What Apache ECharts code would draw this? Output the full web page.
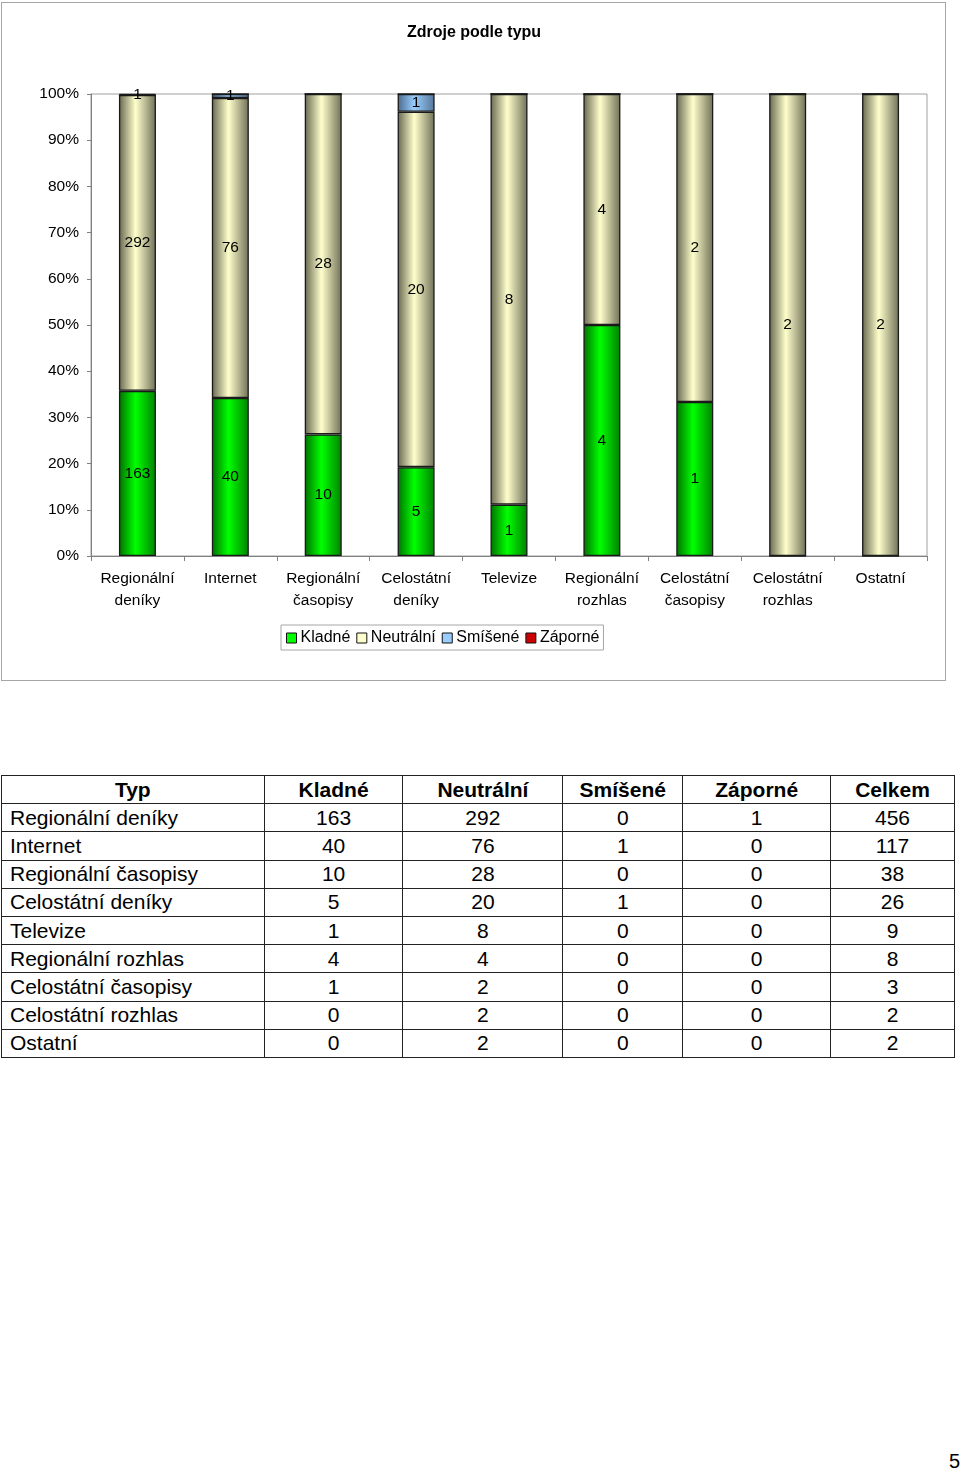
<!DOCTYPE html>
<html>
<head>
<meta charset="utf-8">
<script src="https://cdn.jsdelivr.net/npm/echarts@6/dist/echarts.min.js"></script>
<style>
  html, body { margin:0; padding:0; background:#fff; }
  body { width:960px; height:1471px; position:relative; font-family:"Liberation Sans", Arial, sans-serif; }
  #frame { position:absolute; left:1px; top:2px; width:943px; height:677px; border:1px solid #a6a6a6; }
  #chart { position:absolute; left:0; top:0; width:960px; height:690px; }
  table { position:absolute; left:1px; top:775px; width:954px; border-collapse:collapse; font-size:21px; color:#000; }
  td, th { border:1.5px solid #222; height:27.2px; padding:0; text-align:center; line-height:26px; }
  th { font-weight:bold; }
  td.t { text-align:left; padding-left:8px; }
  #page { position:absolute; left:949px; top:1450px; font-size:20px; }
</style>
</head>
<body>
<div id="frame"></div>
<div id="chart"></div>
<table id="tbl"></table>
<div id="page">5</div>
<script>
const title = 'Zdroje podle typu';
const categories = ['Regionální deníky','Internet','Regionální časopisy','Celostátní deníky','Televize','Regionální rozhlas','Celostátní časopisy','Celostátní rozhlas','Ostatní'];
const axisLabels = ['Regionální\ndeníky','Internet','Regionální\nčasopisy','Celostátní\ndeníky','Televize','Regionální\nrozhlas','Celostátní\nčasopisy','Celostátní\nrozhlas','Ostatní'];
const seriesNames = ['Kladné','Neutrální','Smíšené','Záporné'];
const kladne    = [163, 40, 10, 5, 1, 4, 1, 0, 0];
const neutralni = [292, 76, 28, 20, 8, 4, 2, 2, 2];
const smisene   = [0, 1, 0, 1, 0, 0, 0, 0, 0];
const zaporne   = [1, 0, 0, 0, 0, 0, 0, 0, 0];
const tableHeader = ['Typ','Kladné','Neutrální','Smíšené','Záporné','Celkem'];

const raw = [kladne, neutralni, smisene, zaporne];
const totals = categories.map((c,i)=>raw.reduce((s,a)=>s+a[i],0));

function grad(edgeL, mid, edgeR){
  return new echarts.graphic.LinearGradient(0,0,1,0,[
    {offset:0, color:edgeL},{offset:0.45, color:mid},{offset:1, color:edgeR}
  ]);
}
const fills = [
  grad('#007000','#00ff00','#008000'),
  grad('#66664f','#ffffcc','#6f6f58'),
  grad('#4a6a8a','#99ccff','#557797'),
  grad('#700000','#ff0000','#780000')
];
const solid = ['#00ff00','#ffffcc','#99ccff','#cc0000'];

const chart = echarts.init(document.getElementById('chart'), null, {renderer:'canvas'});
const font = '"Liberation Sans", Arial, sans-serif';
chart.setOption({
  animation:false,
  textStyle:{fontFamily:font},
  title:{text:title, left:469, top:20, textAlign:'center',
    textStyle:{fontSize:16, fontWeight:'bold', color:'#000', fontFamily:font}},
  legend:{
    left:281, top:625, padding:[5,4,4,5], itemGap:6, itemWidth:10, itemHeight:10,
    borderColor:'#a6a6a6', borderWidth:1, icon:'rect',
    textStyle:{fontSize:16, color:'#000', fontFamily:font, padding:[0,0,0,-1]},
    data: seriesNames.map((n,i)=>({name:n, itemStyle:{color:solid[i], borderColor:'#111', borderWidth:1}}))
  },
  grid:{left:91, right:33, top:94, height:462, show:true, borderColor:'#a0a0a0', borderWidth:1},
  xAxis:{
    type:'category', data:axisLabels,
    axisLine:{lineStyle:{color:'#808080'}},
    axisTick:{show:true, length:5, lineStyle:{color:'#808080'}},
    axisLabel:{interval:0, fontSize:15.5, color:'#000', lineHeight:22, margin:12, fontFamily:font}
  },
  yAxis:{
    type:'value', min:0, max:100, interval:10,
    axisLine:{show:true, lineStyle:{color:'#808080'}},
    axisTick:{show:true, length:4, lineStyle:{color:'#808080'}},
    splitLine:{show:false},
    axisLabel:{formatter:'{value}%', fontSize:15.5, color:'#000', margin:12, fontFamily:font}
  },
  series: seriesNames.map((n,si)=>({
    name:n, type:'bar', stack:'all', barWidth:37,
    itemStyle:{color:fills[si], borderColor:'#1a1a1a', borderWidth:1.3},
    label:{show:true, position:'inside', fontSize:15.5, color:'#000', fontFamily:font,
      formatter:p=>raw[si][p.dataIndex] ? String(raw[si][p.dataIndex]) : ''},
    data: raw[si].map((v,i)=>v/totals[i]*100)
  }))
});

// table
const tbl = document.getElementById('tbl');
const widths = [263,139,160,120,148,124];
let html = '<colgroup>' + widths.map(w=>'<col style="width:'+w+'px">').join('') + '</colgroup>';
html += '<tr>' + tableHeader.map(h=>'<th>'+h+'</th>').join('') + '</tr>';
categories.forEach((c,i)=>{
  html += '<tr><td class="t">'+c+'</td>' + raw.map(a=>'<td>'+a[i]+'</td>').join('') + '<td>'+totals[i]+'</td></tr>';
});
tbl.innerHTML = html;
</script>
</body>
</html>
